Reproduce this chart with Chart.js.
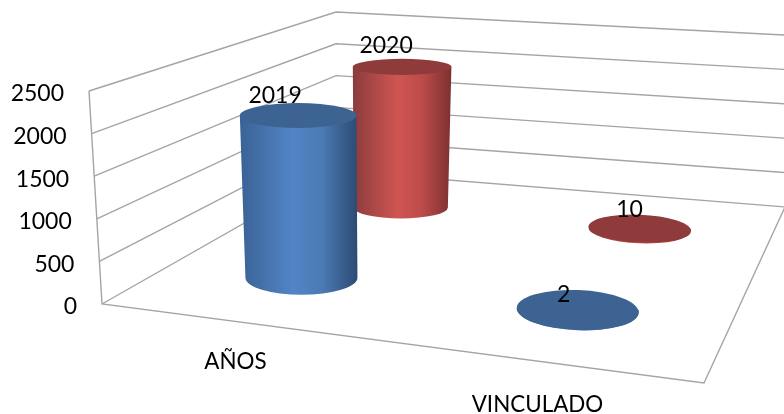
<!DOCTYPE html>
<html>
<head>
<meta charset="utf-8">
<style>html,body{margin:0;padding:0;background:#fff}canvas{display:block}</style>
<script src="https://cdn.jsdelivr.net/npm/chart.js@4"></script>
</head>
<body>
<canvas id="c" width="784" height="414"></canvas>
<script>
// ---- data ----
const categories = ['AÑOS', 'VINCULADO'];
const series2019 = [2019, 2];
const series2020 = [2020, 10];
const seriesNames = ['Serie 1', 'Serie 2'];
const yMax = 2500;
const yStep = 500;

// ---- perspective of the 3-D box (layout only) ----
const FL = {x:102, y:304}, FLt = {x:89, y:91};
const FR = {x:704, y:383};
const BL = {x:336, y:171}, BLt = {x:336, y:12};
const BR = {x:785, y:207}, BRt = {x:785, y:35};
const depth = [0.25, 0.75];
const labelShift = [[[-23,-19.5],[-14,-15.5]], [[-16,-21],[-10,-19]]];
const looks = [
  {flat:'#3d6392', stops:[[0,'#3a6295'],[.45,'#5285c6'],[.7,'#4b7ab5'],[1,'#2c4b72']]},
  {flat:'#8f3b3b', stops:[[0,'#8b3c3c'],[.45,'#cf5552'],[.7,'#bd4c4a'],[1,'#7c3030']]}
];
const FONT = '"Lato","Carlito",sans-serif';
const FONT_SIZE = 23;
const lerp = (a,b,t)=>({x:a.x+(b.x-a.x)*t, y:a.y+(b.y-a.y)*t});

function catU(chart,i){
  const xs = chart.scales.x;
  const u = (xs.getPixelForValue(i)-xs.left)/xs.width;
  return 0.25+(u-0.25)*0.98;
}
function valF(chart,v){
  const ys = chart.scales.y;
  return (ys.bottom-ys.getPixelForValue(v))/(ys.bottom-ys.top);
}
function cylinder(chart,i,ds){
  const u = catU(chart,i), v = depth[ds];
  const p = lerp(lerp(FL,FR,u), lerp(BL,BR,u), v);
  const uu=(u-.25)/.49, vv=(v-.25)/.5;
  const bx = p.x+1.5*vv, by = p.y-10-uu+1.5*vv;
  const full = 201-27*vv;
  const f = valF(chart, chart.data.datasets[ds].data[i]);
  const h = full*f;
  const rx = (56+5*uu)*(1-.16*vv);
  const ry = 17-6*vv+3*uu;
  return {
    bx, by, rx, ry,
    tx: bx+(bx-370)*.0003*h, ty: by-h,
    rxt: rx+2.8*f, ryt: ry*(1-.33*f),
    rot: uu*.04
  };
}

const box3d = {
  id:'box3d',
  beforeDraw(chart){
    // slant the library's own tick labels along the tilted axes
    const ys = chart.scales.y, xs = chart.scales.x;
    ys.getLabelItems(chart.chartArea).forEach((it,k)=>{
      const f = valF(chart, ys.ticks[k].value);
      it.options.translation[0] = lerp(FL,FLt,f).x-25;
      it.options.translation[1] = ys.getPixelForValue(ys.ticks[k].value)+2;
    });
    xs.getLabelItems(chart.chartArea).forEach((it,k)=>{
      const u = catU(chart,k);
      const front = lerp(FL,FR,u);
      it.textOffset = 0;
      it.options.textBaseline = 'middle';
      it.options.textAlign = 'center';
      it.options.translation[0] = front.x-17+7*(u-.25)/.49;
      it.options.translation[1] = front.y+38+4*(u-.25)/.49;
    });
  },
  beforeDatasetsDraw(chart){
    const c = chart.ctx, ys = chart.scales.y;
    c.save();
    c.lineWidth = 1.4;
    c.strokeStyle = '#a4a4a4';
    ys.ticks.forEach(t=>{
      const f = valF(chart,t.value);
      const a = lerp(FL,FLt,f), b = lerp(BL,BLt,f), d = lerp(BR,BRt,f);
      c.beginPath(); c.moveTo(a.x,a.y); c.lineTo(b.x,b.y); c.lineTo(d.x,d.y); c.stroke();
    });
    c.beginPath(); c.moveTo(FLt.x,FLt.y); c.lineTo(FL.x,FL.y); c.lineTo(FR.x,FR.y); c.lineTo(BR.x,BR.y); c.stroke();
    c.restore();
  },
  afterDatasetsUpdate(chart){
    chart.data.datasets.forEach((d,ds)=>{
      chart.getDatasetMeta(ds).data.forEach((el,i)=>{
        el.draw = function(c){
          const g = cylinder(chart,i,ds), look = looks[ds];
          const left = Math.min(g.bx-g.rx,g.tx-g.rxt), right = Math.max(g.bx+g.rx,g.tx+g.rxt);
          const grad = c.createLinearGradient(left,0,right,0);
          look.stops.forEach(s=>grad.addColorStop(s[0],s[1]));
          c.save();
          c.fillStyle = grad;
          c.beginPath();
          c.moveTo(g.tx-g.rxt,g.ty);
          c.lineTo(g.tx+g.rxt,g.ty);
          c.lineTo(g.bx+g.rx,g.by);
          c.ellipse(g.bx,g.by,g.rx,g.ry,g.rot,0,Math.PI);
          c.closePath();
          c.fill();
          c.fillStyle = look.flat;
          c.beginPath();
          c.ellipse(g.tx,g.ty,g.rxt,g.ryt,g.rot,0,Math.PI*2);
          c.fill();
          c.restore();
        };
      });
    });
  },
  afterDatasetsDraw(chart){
    const c = chart.ctx;
    c.save();
    c.font = FONT_SIZE+'px '+FONT;
    c.fillStyle = '#000';
    c.textAlign = 'center';
    c.textBaseline = 'middle';
    chart.data.datasets.forEach((d,ds)=>{
      d.data.forEach((val,i)=>{
        const g = cylinder(chart,i,ds), s = labelShift[ds][i];
        c.fillText(String(val), g.tx+s[0], g.ty+s[1]);
      });
    });
    c.restore();
  }
};

new Chart(document.getElementById('c'),{
  type:'bar',
  data:{
    labels:categories,
    datasets:[
      {label:seriesNames[0], data:series2019, backgroundColor:looks[0].flat, clip:false},
      {label:seriesNames[1], data:series2020, backgroundColor:looks[1].flat, clip:false}
    ]
  },
  options:{
    responsive:false,
    animation:false,
    layout:{padding:{top:92,left:0,right:0,bottom:0}},
    plugins:{legend:{display:false},tooltip:{enabled:false},title:{display:false}},
    scales:{
      x:{
        grid:{display:false}, border:{display:false},
        ticks:{color:'#000',font:{family:FONT,size:22.4},maxRotation:0,autoSkip:false},
        afterFit(s){s.height=109;}
      },
      y:{
        min:0,max:yMax,
        grid:{display:false}, border:{display:false},
        ticks:{color:'#000',stepSize:yStep,font:{family:FONT,size:FONT_SIZE},callback:v=>String(v)},
        afterFit(s){s.width=78;}
      }
    }
  },
  plugins:[box3d]
});
</script>
</body>
</html>
